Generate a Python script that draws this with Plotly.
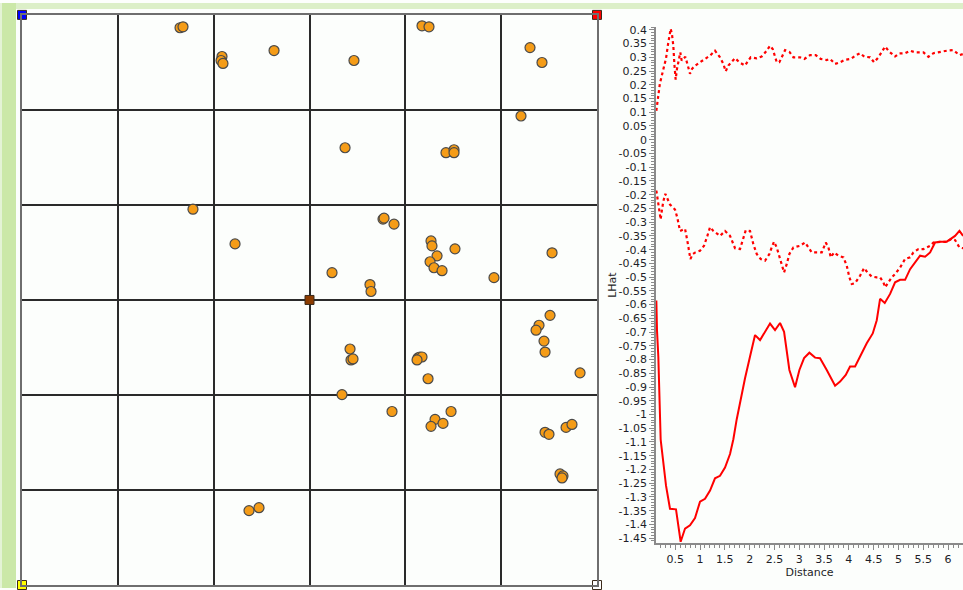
import plotly.graph_objects as go

# ---------------------------------------------------------------------------
# Event locations, in grid-cell units of the 6 x 6 study area
# ---------------------------------------------------------------------------
event_x = [1.649, 1.680, 2.087, 2.077, 2.097, 2.630, 3.464, 4.174, 4.247, 5.301,
           5.426, 5.207, 3.371, 4.424, 4.508, 4.508, 1.784, 2.223, 3.767, 3.778,
           3.882, 4.268, 4.278, 4.331, 4.518, 4.258, 4.299, 4.383, 4.925, 5.531,
           3.235, 3.631, 3.642, 5.510, 5.395, 5.364, 5.447, 5.458, 3.423, 3.433,
           3.454, 4.132, 4.153, 4.174, 4.122, 4.237, 5.823, 3.339, 3.861, 4.477,
           4.310, 4.268, 4.393, 5.458, 5.499, 5.677, 5.739, 5.614, 5.645, 5.635,
           2.369, 2.473]
event_y = [5.865, 5.875, 5.562, 5.520, 5.489, 5.625, 5.520, 5.885, 5.875, 5.656,
           5.499, 4.936, 4.602, 4.550, 4.581, 4.550, 3.955, 3.590, 3.851, 3.861,
           3.798, 3.621, 3.569, 3.464, 3.538, 3.402, 3.339, 3.308, 3.235, 3.496,
           3.287, 3.162, 3.089, 2.838, 2.734, 2.682, 2.567, 2.452, 2.484, 2.369,
           2.379, 2.390, 2.400, 2.400, 2.369, 2.171, 2.233, 2.004, 1.826, 1.826,
           1.743, 1.670, 1.701, 1.607, 1.586, 1.659, 1.690, 1.169, 1.148, 1.127,
           0.783, 0.814]

# Corner and centre handles of the study area
anchor_x = [0, 6, 0, 6, 3]
anchor_y = [6, 6, 0, 0, 3]
anchor_colors = ["#0000ff", "#ff0000", "#ffff00", "#ffffff", "#8c3c00"]

grid_lines = [1, 2, 3, 4, 5]

# ---------------------------------------------------------------------------
# L-hat function: observed curve and simulation envelope
# ---------------------------------------------------------------------------
obs_dist = [0.12, 0.133, 0.16, 0.173, 0.194, 0.207, 0.214, 0.261, 0.315, 0.395,
            0.516, 0.61, 0.698, 0.798, 0.899, 1.0, 1.101, 1.202, 1.302, 1.403,
            1.504, 1.605, 1.672, 1.739, 1.84, 1.907, 2.008, 2.109, 2.21, 2.311,
            2.411, 2.512, 2.613, 2.694, 2.801, 2.915, 3.003, 3.097, 3.204, 3.319,
            3.419, 3.554, 3.722, 3.823, 3.937, 4.024, 4.125, 4.226, 4.36, 4.481,
            4.562, 4.629, 4.723, 4.831, 4.931, 5.032, 5.133, 5.234, 5.335, 5.435,
            5.536, 5.637, 5.737, 5.839, 5.973, 6.073, 6.14, 6.228, 6.302]
obs_lhat = [-0.585, -0.693, -0.79, -0.898, -1.006, -1.09, -1.102, -1.187, -1.259, -1.343,
            -1.345, -1.463, -1.415, -1.403, -1.377, -1.317, -1.307, -1.277, -1.232, -1.223,
            -1.193, -1.144, -1.09, -1.018, -0.922, -0.868, -0.789, -0.711, -0.729, -0.699,
            -0.669, -0.693, -0.667, -0.699, -0.838, -0.901, -0.838, -0.795, -0.775, -0.793,
            -0.795, -0.838, -0.895, -0.88, -0.856, -0.825, -0.825, -0.789, -0.741, -0.705,
            -0.657, -0.579, -0.594, -0.561, -0.519, -0.51, -0.51, -0.471, -0.447, -0.422,
            -0.426, -0.41, -0.374, -0.371, -0.371, -0.359, -0.35, -0.332, -0.35]

hi_dist = [0.12, 0.147, 0.19, 0.247, 0.315, 0.361, 0.409, 0.435, 0.462, 0.483,
           0.509, 0.536, 0.57, 0.603, 0.63, 0.704, 0.745, 0.798, 0.839, 0.906,
           1.0, 1.107, 1.202, 1.302, 1.403, 1.47, 1.518, 1.571, 1.638, 1.706,
           1.793, 1.907, 1.974, 2.022, 2.143, 2.243, 2.317, 2.411, 2.465, 2.512,
           2.546, 2.599, 2.667, 2.714, 2.801, 2.882, 3.016, 3.103, 3.218, 3.332,
           3.433, 3.554, 3.621, 3.722, 3.823, 3.923, 4.038, 4.145, 4.226, 4.313,
           4.427, 4.508, 4.595, 4.663, 4.73, 4.817, 4.931, 5.019, 5.133, 5.234,
           5.335, 5.503, 5.603, 5.704, 5.839, 5.973, 6.107, 6.228, 6.302]
hi_lhat = [0.105, 0.149, 0.203, 0.246, 0.296, 0.354, 0.404, 0.384, 0.342, 0.276,
           0.219, 0.258, 0.284, 0.318, 0.288, 0.302, 0.276, 0.24, 0.258, 0.27,
           0.282, 0.294, 0.306, 0.324, 0.30, 0.276, 0.249, 0.27, 0.282, 0.297,
           0.282, 0.27, 0.288, 0.30, 0.296, 0.303, 0.318, 0.342, 0.33, 0.30,
           0.282, 0.282, 0.306, 0.326, 0.32, 0.30, 0.30, 0.294, 0.308, 0.308,
           0.294, 0.29, 0.294, 0.276, 0.282, 0.291, 0.294, 0.308, 0.315, 0.302,
           0.30, 0.282, 0.30, 0.318, 0.339, 0.32, 0.303, 0.314, 0.315, 0.324,
           0.318, 0.318, 0.302, 0.315, 0.32, 0.324, 0.326, 0.308, 0.312]

lo_dist = [0.12, 0.147, 0.181, 0.207, 0.234, 0.261, 0.301, 0.341, 0.395, 0.496,
           0.543, 0.597, 0.698, 0.745, 0.779, 0.806, 0.853, 0.906, 1.0, 1.081,
           1.148, 1.202, 1.269, 1.403, 1.504, 1.605, 1.672, 1.706, 1.806, 1.86,
           1.921, 2.008, 2.075, 2.143, 2.223, 2.311, 2.398, 2.445, 2.492, 2.546,
           2.613, 2.694, 2.747, 2.801, 2.882, 3.016, 3.117, 3.185, 3.252, 3.366,
           3.454, 3.534, 3.588, 3.635, 3.702, 3.79, 3.891, 3.958, 4.011, 4.058,
           4.125, 4.226, 4.306, 4.374, 4.461, 4.562, 4.629, 4.696, 4.73, 4.864,
           4.931, 5.032, 5.133, 5.234, 5.301, 5.402, 5.503, 5.637, 5.704, 5.839,
           5.973, 6.073, 6.14, 6.228, 6.302]
lo_lhat = [-0.185, -0.224, -0.266, -0.29, -0.254, -0.224, -0.197, -0.212, -0.236, -0.254,
           -0.284, -0.332, -0.324, -0.368, -0.41, -0.434, -0.416, -0.41, -0.404, -0.386,
           -0.35, -0.318, -0.332, -0.35, -0.332, -0.35, -0.38, -0.395, -0.398, -0.362,
           -0.33, -0.332, -0.38, -0.416, -0.434, -0.44, -0.416, -0.392, -0.371, -0.392,
           -0.434, -0.483, -0.453, -0.416, -0.392, -0.386, -0.374, -0.392, -0.41, -0.41,
           -0.41, -0.374, -0.392, -0.428, -0.41, -0.422, -0.428, -0.459, -0.501, -0.525,
           -0.522, -0.495, -0.467, -0.483, -0.498, -0.501, -0.501, -0.519, -0.537, -0.501,
           -0.489, -0.465, -0.434, -0.428, -0.41, -0.398, -0.398, -0.386, -0.374, -0.372,
           -0.372, -0.36, -0.365, -0.392, -0.395]

dist_ticks = [0.5, 1, 1.5, 2, 2.5, 3, 3.5, 4, 4.5, 5, 5.5, 6]
lhat_ticks = [round(-1.45 + 0.05 * i, 2) for i in range(38)]


def tick_label(v):
    s = f"{v:g}"
    return "0" if s == "-0" else s


FONT = "DejaVu Sans"
TEXT = "#1e1e28"
AXIS = "#8a8a8a"
RED = "#ff0000"

fig = go.Figure()

# --- study area -----------------------------------------------------------
fig.add_trace(go.Scatter(
    x=event_x, y=event_y, mode="markers", xaxis="x", yaxis="y",
    marker=dict(size=10, color="#f59c17", line=dict(color="#4a4a4a", width=1.2)),
    hoverinfo="skip", showlegend=False,
))
fig.add_trace(go.Scatter(
    x=anchor_x, y=anchor_y, mode="markers", xaxis="x", yaxis="y",
    marker=dict(symbol="square", size=9, color=anchor_colors,
                line=dict(color="#3a2a1a", width=1)),
    cliponaxis=False, hoverinfo="skip", showlegend=False,
))

# --- L-hat curves ---------------------------------------------------------
fig.add_trace(go.Scatter(
    x=hi_dist, y=hi_lhat, mode="lines", xaxis="x2", yaxis="y2",
    line=dict(color=RED, width=2.2, dash="dot"), showlegend=False,
))
fig.add_trace(go.Scatter(
    x=lo_dist, y=lo_lhat, mode="lines", xaxis="x2", yaxis="y2",
    line=dict(color=RED, width=2.2, dash="dot"), showlegend=False,
))
fig.add_trace(go.Scatter(
    x=obs_dist, y=obs_lhat, mode="lines", xaxis="x2", yaxis="y2",
    line=dict(color=RED, width=2), showlegend=False,
))

W, H = 963, 590

# green frame of the application window
shapes = [
    dict(type="rect", xref="paper", yref="paper", x0=0, x1=16 / W, y0=0, y1=1,
         fillcolor="#cbe8a8", line=dict(width=0), layer="below"),
    dict(type="rect", xref="paper", yref="paper", x0=0, x1=2 / W, y0=0, y1=1,
         fillcolor="#e4f3d6", line=dict(width=0), layer="below"),
    dict(type="rect", xref="paper", yref="paper", x0=16 / W, x1=1, y0=(H - 6) / H, y1=1,
         fillcolor="#dcefc8", line=dict(width=0), layer="below"),
]

fig.update_layout(
    width=W, height=H,
    margin=dict(l=0, r=0, t=0, b=0),
    paper_bgcolor="#fcfefc",
    plot_bgcolor="rgba(0,0,0,0)",
    font=dict(family=FONT, size=11, color=TEXT),
    shapes=shapes,
    xaxis=dict(
        domain=[22 / W, 597 / W], range=[0, 6], anchor="y",
        tickvals=grid_lines, showticklabels=False, ticks="",
        showgrid=True, gridcolor="#2a2a2a", gridwidth=1.5,
        zeroline=False, showline=True, mirror=True,
        linecolor="#6e6e6e", linewidth=2, fixedrange=True,
    ),
    yaxis=dict(
        domain=[3 / H, 578 / H], range=[0, 6], anchor="x",
        tickvals=grid_lines, showticklabels=False, ticks="",
        showgrid=True, gridcolor="#2a2a2a", gridwidth=1.5,
        zeroline=False, showline=True, mirror=True,
        linecolor="#6e6e6e", linewidth=2, fixedrange=True,
    ),
    xaxis2=dict(
        domain=[656 / W, 1.0], range=[0.113, 6.30], anchor="y2",
        tickvals=dist_ticks, ticktext=[tick_label(v) for v in dist_ticks],
        ticks="outside", ticklen=5, tickwidth=1, tickcolor=AXIS,
        minor=dict(dtick=0.1, tick0=0, ticks="outside", ticklen=3,
                   tickwidth=1, tickcolor=AXIS, showgrid=False),
        showgrid=False, zeroline=False, showline=True,
        linecolor=AXIS, linewidth=1.5,
        tickfont=dict(family=FONT, size=11, color=TEXT),
        title=dict(text="Distance", standoff=0,
                   font=dict(family=FONT, size=11, color=TEXT)),
    ),
    yaxis2=dict(
        domain=[45 / H, 566 / H], range=[-1.469, 0.411], anchor="x2",
        tickvals=lhat_ticks, ticktext=[tick_label(v) for v in lhat_ticks],
        ticks="outside", ticklen=5, tickwidth=1, tickcolor=AXIS,
        minor=dict(dtick=0.01, tick0=0, ticks="outside", ticklen=3,
                   tickwidth=1, tickcolor=AXIS, showgrid=False),
        showgrid=False, zeroline=False, showline=True,
        linecolor=AXIS, linewidth=1.5,
        tickfont=dict(family=FONT, size=11, color=TEXT),
        title=dict(text="LHat", standoff=0,
                   font=dict(family=FONT, size=11, color=TEXT)),
    ),
)

fig.write_html("out.html")
